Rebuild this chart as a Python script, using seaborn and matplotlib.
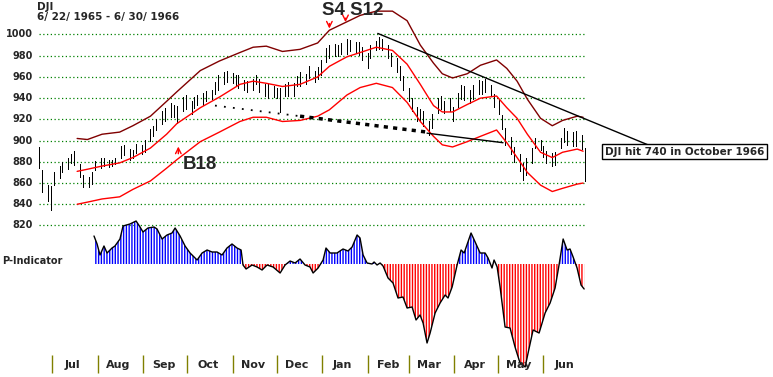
import pandas as pd
import matplotlib
matplotlib.use("Agg")
import matplotlib.pyplot as plt
import seaborn as sns

sns.set_style("white")
plt.rcParams["font.family"] = ["DejaVu Sans"]
plt.rcParams["hatch.linewidth"] = 1.0

# %%
# Data
start = pd.Timestamp("1965-06-22")
end = pd.Timestamp("1966-06-30")

# daily bars, every second trading day
highs = [894, 872, 858, 857, 870, 876, 880, 884, 887, 890,
         878, 868, 866, 870, 881, 884, 884, 882, 882, 884,
         895, 896, 892, 891, 897, 896, 901, 911, 914, 920,
         928, 931, 935, 934, 933, 941, 943, 937, 941, 943,
         945, 947, 948, 955, 962, 965, 966, 964, 962, 962,
         957, 956, 958, 962, 958, 953, 953, 951, 950, 950,
         953, 955, 954, 961, 965, 963, 970, 966, 969, 976,
         987, 990, 991, 990, 992, 996, 995, 993, 993, 988,
         983, 990, 994, 998, 996, 990, 983, 978, 970, 961,
         950, 940, 932, 930, 928, 918, 925, 940, 942, 937,
         940, 932, 945, 952, 951, 948, 952, 957, 956, 958,
         952, 944, 938, 924, 912, 903, 894, 887, 879, 884,
         893, 902, 901, 895, 890, 888, 889, 902, 912, 909,
         908, 909, 905, 893]
lows = [874, 852, 843, 835, 858, 865, 870, 873, 879, 877,
        866, 856, 856, 859, 872, 874, 876, 875, 876, 878,
        884, 886, 882, 884, 888, 887, 889, 900, 904, 910,
        916, 918, 922, 922, 917, 928, 930, 925, 931, 934,
        934, 937, 939, 944, 948, 953, 955, 954, 952, 950,
        948, 946, 948, 953, 946, 942, 940, 941, 940, 927,
        942, 942, 942, 951, 951, 953, 959, 955, 958, 962,
        974, 978, 980, 980, 982, 982, 984, 983, 981, 976,
        968, 978, 985, 986, 985, 978, 970, 965, 957, 948,
        937, 928, 918, 918, 914, 905, 912, 926, 930, 926,
        928, 918, 932, 939, 938, 935, 939, 944, 944, 946,
        942, 932, 925, 911, 896, 887, 880, 871, 863, 868,
        879, 893, 891, 885, 879, 876, 877, 893, 899, 896,
        895, 895, 892, 862]

# bands (days since start)
band_days = [26, 33, 43, 55, 64, 76, 87, 94, 110, 123, 137, 146, 155, 166, 178,
             190, 198, 210, 219, 230, 241, 251, 260, 269, 275, 282, 292, 301,
             312, 319, 326, 333, 342, 350, 357, 367, 371]
upper_band = [902, 901, 906, 908, 914, 923, 937, 946, 966, 975, 983, 988, 989,
              984, 986, 992, 1004, 1012, 1018, 1022, 1022, 1013, 990, 973, 963,
              959, 963, 971, 976, 968, 956, 939, 921, 914, 919, 923, 922]
mid_band = [871, 873, 876, 879, 884, 893, 906, 916, 931, 941, 953, 956, 954,
            951, 953, 960, 970, 979, 983, 988, 985, 972, 953, 933, 927, 927,
            934, 940, 942, 931, 921, 906, 889, 884, 889, 892, 890]
lower_band = [840, 842, 845, 847, 854, 862, 874, 882, 899, 908, 918, 922, 922,
              918, 919, 923, 929, 943, 950, 954, 950, 936, 918, 904, 896, 894,
              899, 904, 910, 898, 884, 870, 858, 852, 855, 859, 860]

# P-Indicator
p_days = [37.5, 39.6, 41.6, 44.3, 46.4, 49.8, 51.8, 55.2, 57.3, 62.0,
          66.2, 68.9, 70.9, 74.3, 78.4, 80.5, 83.9, 87.3, 90.7, 92.8,
          96.2, 99.6, 103.0, 107.8, 111.2, 114.6, 118.0, 121.4, 124.8, 128.2,
          131.6, 135.0, 137.8, 139.1, 141.2, 145.3, 148.7, 152.1, 155.5, 159.6,
          164.4, 167.8, 171.2, 174.6, 178.0, 181.4, 184.8, 186.9, 190.3, 193.7,
          195.7, 198.5, 203.2, 207.3, 210.7, 213.5, 216.9, 218.9, 221.0, 223.7,
          227.1, 228.5, 230.5, 232.6, 234.6, 238.0, 241.4, 244.8, 248.2, 251.0,
          254.4, 257.1, 259.8, 261.9, 264.6, 266.7, 270.1, 273.5, 276.9, 278.9,
          281.7, 285.1, 287.8, 289.9, 294.6, 297.4, 300.8, 304.2, 306.2, 308.9,
          310.3, 312.4, 314.4, 317.8, 321.2, 324.6, 328.0, 331.5, 333.5, 336.9,
          341.0, 345.1, 348.5, 351.9, 354.6, 357.4, 360.1, 362.1, 364.2, 366.9,
          369.6, 371.7]
p_vals = [28, 20, 9, 18, 11, 16, 18, 25, 38, 40,
          43, 37, 32, 36, 37, 35, 25, 29, 31, 36,
          28, 18, 11, 4, 11, 14, 12, 12, 9, 16,
          20, 16, 14, -1, -5, -1, -3, -6, -1, -3,
          -9, -1, 3, 1, 5, -1, -3, -9, -4, 4,
          16, 11, 11, 15, 13, 17, 29, 26, 9, 1,
          0, 2, -1, 1, -2, -14, -19, -34, -33, -44,
          -43, -56, -51, -59, -79, -69, -49, -39, -31, -34,
          -23, -1, 14, 11, 31, 22, 11, 11, 6, -4,
          4, -3, -23, -63, -64, -83, -99, -103, -89, -66,
          -69, -49, -39, -24, -1, 25, 14, 15, 7, -4,
          -21, -25]

# trend lines
trend_days, trend_vals = [231, 417], [1001, 895]
neck_days, neck_vals = [120, 178, 264.6], [933, 923, 908]
support_days, support_vals = [264.6, 316.4], [907, 898]

grid_levels = list(range(820, 1001, 20))
month_labels = ["Jul", "Aug", "Sep", "Oct", "Nov", "Dec",
                "Jan", "Feb", "Mar", "Apr", "May", "Jun"]

# %%
def day(d):
    return start + pd.to_timedelta(d, unit="D")

bar_dates = pd.bdate_range(start, end)[::2][:len(highs)]
bands = pd.DataFrame({"date": day(pd.Series(band_days)), "upper": upper_band,
                      "mid": mid_band, "lower": lower_band})
pdf = pd.DataFrame({"date": day(pd.Series(p_days)), "p": p_vals})
months = pd.date_range("1965-07-01", "1966-06-01", freq="MS")

fig = plt.figure(figsize=(7.73, 3.77), dpi=100)
ax = fig.add_axes([0, 0, 1, 1])
ax2 = fig.add_axes([0, 0, 1, 1], sharex=ax)
ax2.patch.set_alpha(0)

# grid
ax.hlines(grid_levels, start, end, colors="#008000", lw=0.9, linestyles=(0, (1, 2)))

# price bars
ax.vlines(bar_dates, lows, highs, colors="black", lw=0.72, antialiased=False)

# bands
sns.lineplot(data=bands, x="date", y="upper", color="#800000", lw=1, ax=ax)
sns.lineplot(data=bands, x="date", y="mid", color="red", lw=1, ax=ax)
sns.lineplot(data=bands, x="date", y="lower", color="red", lw=1, ax=ax)

# trend lines
ax.plot(day(pd.Series(trend_days)), trend_vals, color="black", lw=1)
ax.plot(day(pd.Series(neck_days[:2])), neck_vals[:2], color="black", lw=1.3,
        linestyle=(0, (1, 4)))
ax.plot(day(pd.Series(neck_days[1:])), neck_vals[1:], color="black", lw=2.5,
        linestyle=(0, (1.2, 1.5)))
ax.plot(day(pd.Series(support_days)), support_vals, color="black", lw=1)

# labels
for g in grid_levels:
    ax.text(day(-4), g, str(g), ha="right", va="center", fontsize=7, fontweight="bold")
ax.text(day(-1.5), 1026, "DJI", ha="left", va="center", fontsize=7.5, fontweight="bold")
ax.text(day(-1.5), 1016.5, "6/ 22/ 1965 - 6/ 30/ 1966", ha="left", va="center",
        fontsize=7.5, fontweight="bold")

ax.text(day(214), 1023, "S4 S12", ha="center", va="center", fontsize=13.5,
        fontweight="bold", family="Liberation Sans")
ax.annotate("", xy=(day(198), 1003), xytext=(day(198), 1013),
            arrowprops=dict(arrowstyle="->", color="red", lw=1))
ax.annotate("", xy=(day(209), 1009), xytext=(day(209), 1018),
            arrowprops=dict(arrowstyle="->", color="red", lw=1))
ax.text(day(98), 877, "B18", ha="left", va="center", fontsize=13.5,
        fontweight="bold", family="Liberation Sans")
ax.annotate("", xy=(day(95), 897), xytext=(day(95), 885),
            arrowprops=dict(arrowstyle="->", color="red", lw=1))

ax.text(day(440), 889.7, "DJI hit 740 in October 1966", ha="center", va="center",
        fontsize=7.5, fontweight="bold",
        bbox=dict(boxstyle="square,pad=0.28", fc="white", ec="black", lw=1))

# P-Indicator
ax2.fill_between(pdf["date"], pdf["p"], 0, where=pdf["p"] >= 0, interpolate=True,
                 facecolor="none", edgecolor="blue", hatch="||||||", lw=0)
ax2.fill_between(pdf["date"], pdf["p"], 0, where=pdf["p"] <= 0, interpolate=True,
                 facecolor="none", edgecolor="red", hatch="||||||", lw=0)
sns.lineplot(data=pdf, x="date", y="p", color="black", lw=1, ax=ax2)
ax2.text(day(-25.2), 3, "P-Indicator", ha="left", va="center", fontsize=7,
         fontweight="bold")

ax2.vlines(months, -109, -91, colors="#808000", lw=1)
for m, lab in zip(months, month_labels):
    ax2.text(m + pd.Timedelta(days=14), -101, lab, ha="center", va="center",
             fontsize=8, fontweight="bold")

ax.set_xlim(day(-26.6), day(500.5))
ax.set_ylim(677.2, 1032.5)
ax2.set_ylim(-113, 264)
ax.axis("off")
ax2.axis("off")

plt.savefig("out.png", dpi=100)
